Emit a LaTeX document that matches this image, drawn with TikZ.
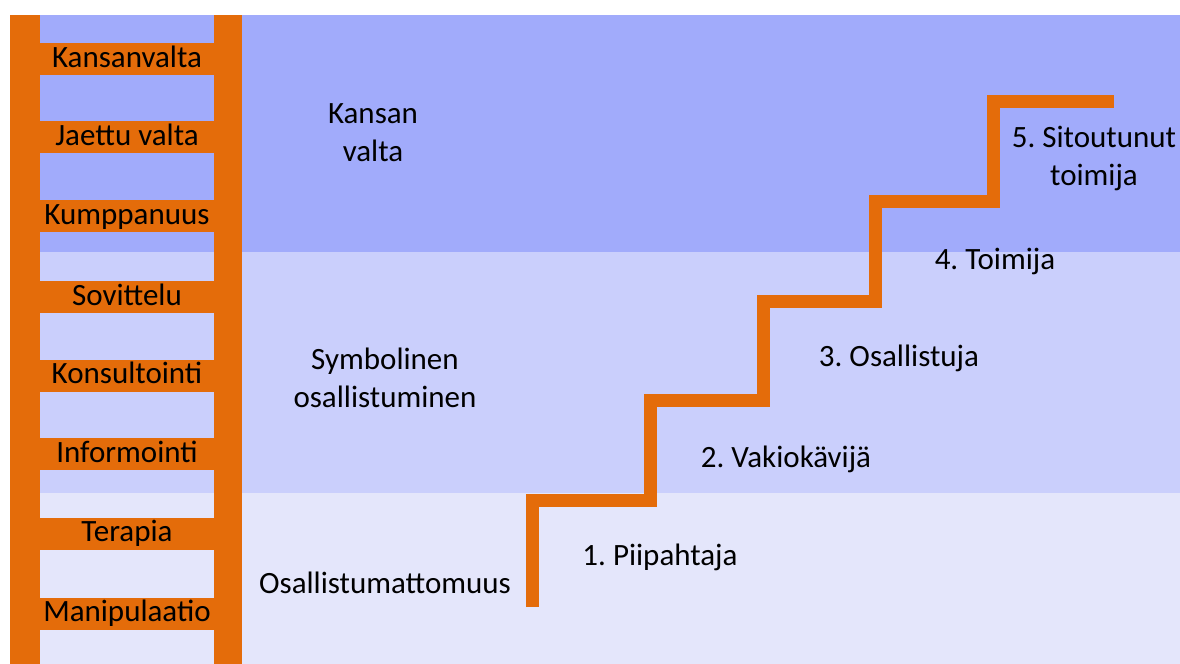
\documentclass[tikz,border=0pt]{standalone}
\usepackage{fontspec}
\setmainfont{Carlito}
\frenchspacing
\definecolor{ladderorange}{RGB}{228,108,10}
\definecolor{bandtop}{RGB}{161,171,251}
\definecolor{bandmid}{RGB}{202,207,252}
\definecolor{bandlow}{RGB}{228,230,251}
\tikzset{
  rungbox/.style={fill=ladderorange, minimum width=87pt, minimum height=16pt,
    inner sep=0pt, text height=11.5pt, text depth=3.4pt},
  label/.style={align=center, inner sep=0pt, text height=11.5pt, text depth=3.4pt},
  twolines/.style={align=center, inner sep=0pt},
  stairline/.style={draw=ladderorange, line width=6.5pt}
}
\begin{document}
\begin{tikzpicture}[x=0.5pt,y=-0.5pt,font=\fontsize{15.5}{19}\selectfont]
\useasboundingbox (0,0) rectangle (1180,664);
% background bands
\fill [bandtop] (10,15) rectangle (1180,252);
\fill [bandmid] (10,252) rectangle (1180,493);
\fill [bandlow] (10,493) rectangle (1180,664);
% ladder
\fill [ladderorange] (10,15) rectangle (40,664);
\fill [ladderorange] (214,15) rectangle (242,664);
\node [rungbox] (kansanvalta) at (127,59) {Kansanvalta};
\node [rungbox] (jaettu) at (127,137) {Jaettu valta};
\node [rungbox] (kumppanuus) at (127,216) {Kumppanuus};
\node [rungbox] (sovittelu) at (127,297) {Sovittelu};
\node [rungbox] (konsultointi) at (127,375.5) {Konsultointi};
\node [rungbox] (informointi) at (127,454) {Informointi};
\node [rungbox] (terapia) at (127,533.5) {Terapia};
\node [rungbox] (manipulaatio) at (127,613.5) {Manipulaatio};
% levels
\node [twolines] (valta) at (373,133) {Kansan\\valta};
\node [twolines] (symbolinen) at (385,378) {Symbolinen\\osallistuminen};
\node [label] (osattomuus) at (385,585) {Osallistumattomuus};
% stairs
\draw [stairline] (532,607) |- (650,500) |- (763,400) |- (875,301) |- (993,201) |- (1114,101);
\node [label] (step1) at (660,557) {1. Piipahtaja};
\node [label] (step2) at (786,459) {2. Vakiokävijä};
\node [label] (step3) at (899,358) {3. Osallistuja};
\node [label] (step4) at (995,261) {4. Toimija};
\node [twolines] (step5) at (1094,158) {5. Sitoutunut\\toimija};
\end{tikzpicture}
\end{document}
